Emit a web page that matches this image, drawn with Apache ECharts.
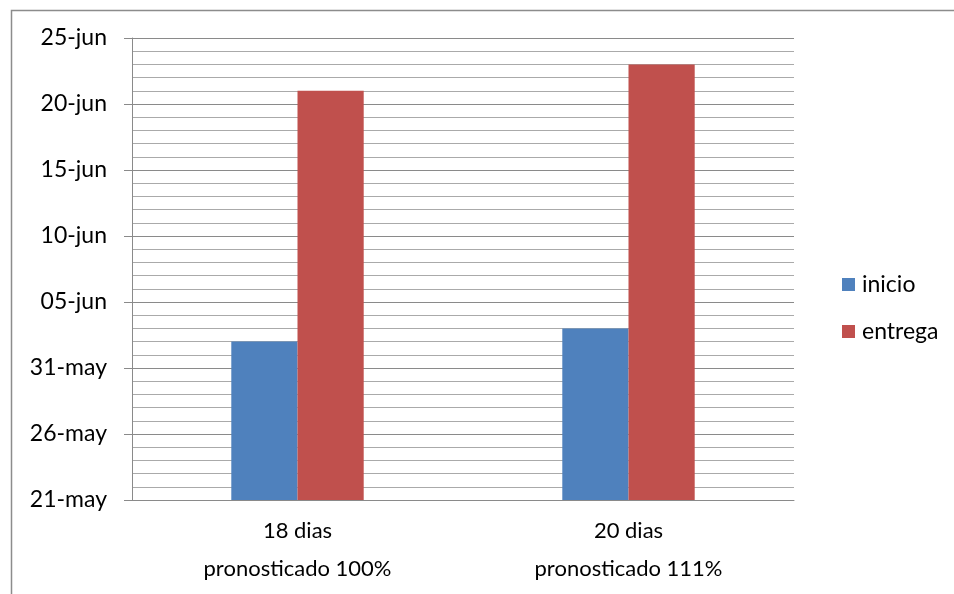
<!DOCTYPE html>
<html>
<head>
<meta charset="utf-8">
<script src="https://cdn.jsdelivr.net/npm/echarts@6/dist/echarts.min.js"></script>
<style>
  html, body { margin: 0; padding: 0; background: #fff; }
  #chart { width: 954px; height: 594px; }
</style>
</head>
<body>
<div id="chart"></div>
<script>
// data
const categories = ['18 dias\npronosticado 100%', '20 dias\npronosticado 111%'];
const seriesNames = ['inicio', 'entrega'];
const inicioDates = ['2013-06-02', '2013-06-03'];
const entregaDates = ['2013-06-21', '2013-06-23'];
const axisStart = '2013-05-21';
const axisEnd = '2013-06-25';
const monthNames = ['ene', 'feb', 'mar', 'abr', 'may', 'jun', 'jul', 'ago', 'sep', 'oct', 'nov', 'dic'];

const DAY = 86400000;
const toDay = d => (Date.parse(d) - Date.parse(axisStart)) / DAY;
const fmtDay = v => {
  const d = new Date(Date.parse(axisStart) + v * DAY);
  const dd = String(d.getUTCDate()).padStart(2, '0');
  return dd + '-' + monthNames[d.getUTCMonth()];
};

const chart = echarts.init(document.getElementById('chart'));
const font = 'Lato, "Open Sans", sans-serif';

const option = {
  animation: false,
  textStyle: { fontFamily: font },
  graphic: [{
    type: 'rect',
    left: 9, top: 8,
    shape: { width: 1000, height: 700 },
    style: { fill: 'none', stroke: '#8c8c8c', lineWidth: 1.5 }
  }],
  grid: { left: 132, right: 160, top: 38, bottom: 94 },
  legend: {
    data: seriesNames,
    orient: 'vertical',
    left: 837, top: 268,
    itemWidth: 13, itemHeight: 13,
    itemGap: 24,
    icon: 'rect',
    textStyle: { fontSize: 23, color: '#000', fontFamily: font, padding: [0, 0, 0, 2] }
  },
  xAxis: {
    type: 'category',
    data: categories,
    axisLine: { lineStyle: { color: '#8a8a8a', width: 1 } },
    axisTick: { show: false },
    axisLabel: { fontSize: 22, color: '#000', lineHeight: 38, margin: 12, fontFamily: font }
  },
  yAxis: {
    type: 'value',
    min: 0,
    max: toDay(axisEnd),
    interval: 5,
    axisLine: { show: true, lineStyle: { color: '#8a8a8a', width: 1 } },
    axisTick: { show: true, length: 8, lineStyle: { color: '#8a8a8a' } },
    minorTick: { show: false, splitNumber: 5 },
    splitLine: { show: true, lineStyle: { color: '#8a8a8a', width: 1 } },
    minorSplitLine: { show: true, lineStyle: { color: '#aaaaaa', width: 1 } },
    axisLabel: { formatter: fmtDay, fontSize: 23, color: '#000', margin: 25, fontFamily: font }
  },
  series: [
    {
      name: seriesNames[0],
      type: 'bar',
      data: inicioDates.map(toDay),
      barGap: '0%',
      barCategoryGap: '60%',
      itemStyle: { color: '#4F81BD' }
    },
    {
      name: seriesNames[1],
      type: 'bar',
      data: entregaDates.map(toDay),
      barGap: '0%',
      barCategoryGap: '60%',
      itemStyle: { color: '#C0504D' }
    }
  ]
};

chart.setOption(option);
</script>
</body>
</html>
